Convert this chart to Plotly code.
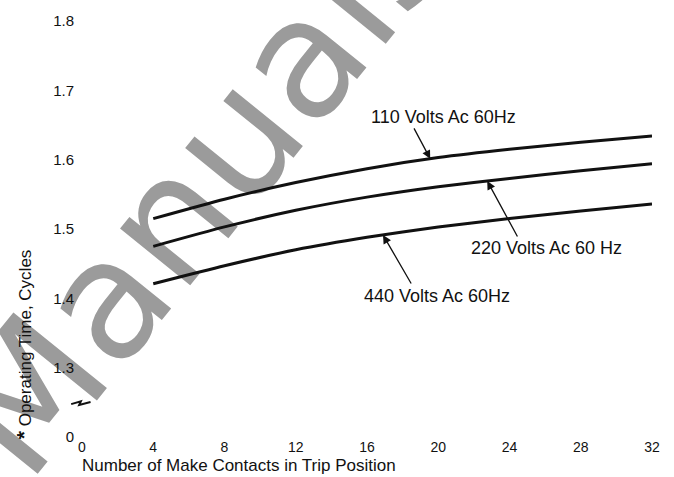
import numpy as np
import plotly.graph_objects as go

# Operating time vs. number of make contacts, three supply voltages
contacts = [4, 8, 12, 16, 20, 24, 28, 32]
time_110v = [1.515, 1.543, 1.567, 1.587, 1.603, 1.615, 1.625, 1.634]
time_220v = [1.475, 1.503, 1.527, 1.546, 1.561, 1.573, 1.584, 1.594]
time_440v = [1.421, 1.447, 1.470, 1.488, 1.503, 1.515, 1.526, 1.536]

x_tick_vals = [0, 4, 8, 12, 16, 20, 24, 28, 32]
y_tick_vals = [1.2, 1.3, 1.4, 1.5, 1.6, 1.7, 1.8]
y_tick_text = ["0", "1.3", "1.4", "1.5", "1.6", "1.7", "1.8"]

series = [
    ("110 Volts Ac 60Hz", time_110v),
    ("220 Volts Ac 60 Hz", time_220v),
    ("440 Volts Ac 60Hz", time_440v),
]

# callout placement: (label x, label y, arrow tip x, tail offset px)
callouts = {
    "110 Volts Ac 60Hz": (20.3, 1.662, 19.55, (-17, -32)),
    "220 Volts Ac 60 Hz": (26.05, 1.473, 22.75, (31, 57)),
    "440 Volts Ac 60Hz": (19.95, 1.403, 16.9, (29, 50)),
}

FONT = "Liberation Sans"
INK = "#111111"

fig = go.Figure()
for name, vals in series:
    fig.add_trace(go.Scatter(
        x=contacts, y=vals, mode="lines", name=name,
        line=dict(color=INK, width=3, shape="spline", smoothing=0.6),
        showlegend=False, hoverinfo="skip",
    ))

annotations = []
for name, vals in series:
    lx, ly, tip_x, (ax, ay) = callouts[name]
    tip_y = float(np.interp(tip_x, contacts, vals))
    annotations.append(dict(
        x=lx, y=ly, xref="x", yref="y", text=name, showarrow=False,
        font=dict(family=FONT, size=18, color=INK),
    ))
    annotations.append(dict(
        x=tip_x, y=tip_y, xref="x", yref="y", text="", showarrow=True,
        ax=ax, ay=ay, arrowhead=2, arrowsize=1.3, arrowwidth=1.3,
        arrowcolor=INK, standoff=0,
    ))

# axis titles
annotations.append(dict(
    x=0, y=0, xref="paper", yref="paper", xanchor="left", yanchor="middle",
    xshift=-2, yshift=-28, showarrow=False,
    text="Number of Make Contacts in Trip Position",
    font=dict(family=FONT, size=17, color=INK),
))
annotations.append(dict(
    x=0, y=0.223, xref="paper", yref="paper", xanchor="center", yanchor="middle",
    xshift=-59, showarrow=False, textangle=-90,
    text="<b><span style='font-size:21px'>*</span></b> Operating Time, Cycles",
    font=dict(family=FONT, size=17, color=INK),
))

shapes = [
    # axis break mark
    dict(type="path", xref="paper", yref="paper",
         path="M -0.019 0.079 L -0.002 0.086 L -0.005 0.077 L 0.015 0.084",
         line=dict(color=INK, width=2), layer="above"),
    # site watermark behind everything
    dict(type="rect", xref="paper", yref="paper",
         x0=0.003, x1=0.303, y0=0.466, y1=0.666, layer="below",
         line=dict(width=0), fillcolor="rgba(0,0,0,0)",
         label=dict(text="tManuals", textangle=-51,
                    font=dict(family="DejaVu Sans", size=165, color="#9b9b9b"),
                    textposition="middle center")),
]

fig.update_layout(
    width=674, height=477,
    margin=dict(l=82, r=22, t=15, b=40),
    paper_bgcolor="white", plot_bgcolor="rgba(0,0,0,0)",
    font=dict(family=FONT, size=15, color=INK),
    xaxis=dict(range=[0, 32], tickvals=x_tick_vals, showgrid=False,
               zeroline=False, showline=False, ticks="",
               tickfont=dict(family=FONT, size=14, color=INK)),
    yaxis=dict(range=[1.2, 1.8], tickvals=y_tick_vals, ticktext=y_tick_text,
               showgrid=False, zeroline=False, showline=False,
               ticks="outside", ticklen=4, tickcolor="rgba(0,0,0,0)",
               tickfont=dict(family=FONT, size=15, color=INK)),
    annotations=annotations,
    shapes=shapes,
)

fig.write_html("out.html")
